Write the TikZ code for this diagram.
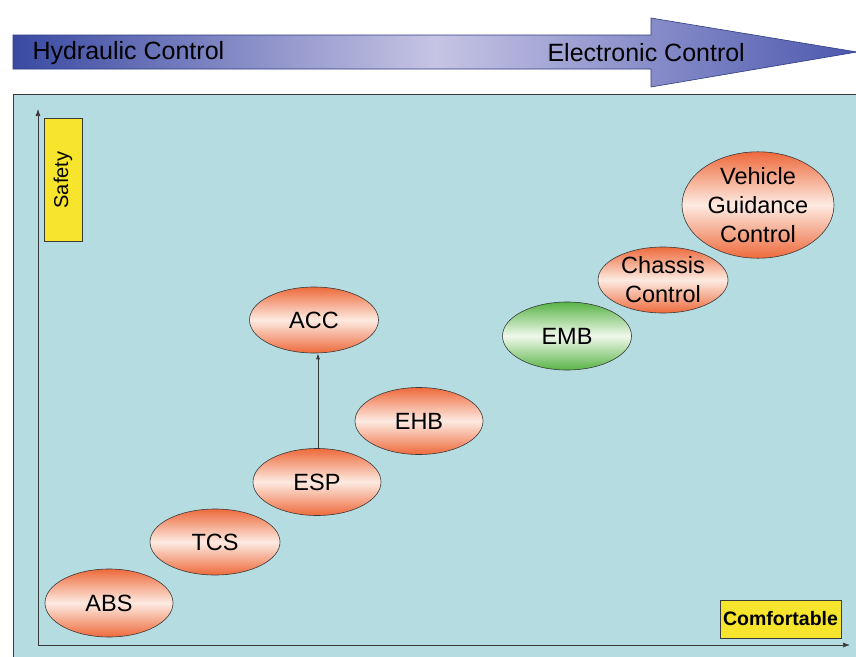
\documentclass[tikz,border=0pt]{standalone}
\usepackage{fontspec}
\setmainfont{Liberation Sans}
\usetikzlibrary{shapes.geometric,arrows.meta}
\definecolor{panel}{HTML}{B5DCE0}
\definecolor{arrdark}{HTML}{3A4AA2}
\definecolor{arrlight}{HTML}{C6C4E4}
\definecolor{arrright}{HTML}{4C58AE}
\definecolor{ored}{HTML}{EE6A3C}
\definecolor{olight}{HTML}{FDEBE2}
\definecolor{ggreen}{HTML}{58B446}
\definecolor{glight}{HTML}{F0F8EC}
\definecolor{ybox}{HTML}{F6E52C}
\definecolor{edge}{HTML}{3A3A3A}
\begin{document}
\begin{tikzpicture}[x=1pt,y=-1pt,
  bubble/.style={ellipse, draw=edge, line width=0.6pt, inner sep=0pt,
     top color=ored, bottom color=ored, middle color=olight,
     align=center, font=\fontsize{23.5}{29}\selectfont},
  greenbubble/.style={bubble, top color=ggreen, bottom color=ggreen, middle color=glight},
  tag/.style={draw=edge, line width=0.6pt, fill=ybox, inner sep=0pt},
  axis/.style={draw=edge, line width=0.7pt, -{Latex[length=7pt,width=5pt]}}]
\useasboundingbox (0,0) rectangle (856,656);
\fill[white] (0,0) rectangle (856,656);
% top arrow
\path[draw=arrdark!80!black, line width=0.6pt, left color=arrdark, right color=arrright, middle color=arrlight]
  (13,35) -- (651,35) -- (651,18) -- (857,52) -- (651,87) -- (651,69) -- (13,69) -- cycle;
\node[font=\fontsize{25}{30}\selectfont, anchor=west] (hyd) at (29,53) {Hydraulic Control};
\node[font=\fontsize{25}{30}\selectfont, anchor=west] (ele) at (544,53) {Electronic Control};
% panel
\path[fill=panel, draw=edge, line width=0.8pt] (13,94) rectangle (860,662);
% axes
\coordinate (o) at (38,645);
\coordinate (yt) at (38,109);
\coordinate (xe) at (850,645);
\draw[axis] (o) -- (yt);
\draw[axis] (o) -- (xe);
% labels
\node[tag, minimum width=38pt, minimum height=123pt] (safety) at (63,180) {};
\node[rotate=90, font=\fontsize{20}{24}\selectfont] (safetyt) at (63,180) {Safety};
\node[tag, minimum width=121pt, minimum height=38pt, font=\bfseries\fontsize{19.5}{24}\selectfont] (comf) at (780.5,619) {Comfortable};
% bubbles
\node[bubble, minimum width=128pt, minimum height=68pt] (abs) at (109,603) {ABS};
\node[bubble, minimum width=130pt, minimum height=66pt] (tcs) at (215,542) {TCS};
\node[bubble, minimum width=128pt, minimum height=67pt] (esp) at (317,482) {ESP};
\node[bubble, minimum width=129pt, minimum height=66pt] (acc) at (314,320) {ACC};
\node[bubble, minimum width=128pt, minimum height=67pt] (ehb) at (419,421) {EHB};
\node[greenbubble, minimum width=129pt, minimum height=68pt] (emb) at (567,336) {EMB};
\node[bubble, minimum width=130pt, minimum height=66pt] (chs) at (663,280) {Chassis\\Control};
\node[bubble, minimum width=152pt, minimum height=99pt] (vgc) at (758,205) {Vehicle\\Guidance\\Control};
\draw[draw=edge, line width=0.7pt, -{Latex[length=6pt,width=4pt]}] (esp.north -| 318,0) -- (acc.south -| 318,0);
\end{tikzpicture}
\end{document}
